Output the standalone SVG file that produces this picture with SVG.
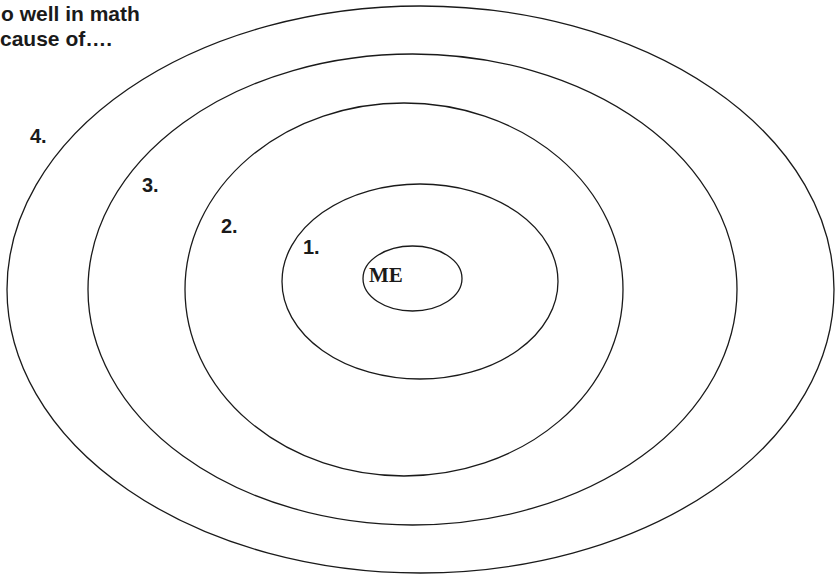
<svg xmlns="http://www.w3.org/2000/svg" width="839" height="574" viewBox="0 0 839 574">
<style>
.ring{fill:none;stroke:#1a1a1a;stroke-width:1.3}
.lbl{font-family:"Liberation Sans",Arial,sans-serif;font-weight:bold;font-size:20px;fill:#1a1a1a}
.ttl{font-family:"Liberation Sans",Arial,sans-serif;font-weight:bold;font-size:21px;fill:#1a1a1a}
.me{font-family:"Liberation Serif","Times New Roman",serif;font-weight:bold;font-size:21px;fill:#1a1a1a}
</style>
<rect width="839" height="574" fill="#ffffff"/>
<g id="title">
<text class="ttl" x="1" y="21">o well in math</text>
<text class="ttl" x="0" y="46">cause of….</text>
</g>
<g id="ring4">
<ellipse class="ring" cx="420.5" cy="289.5" rx="413.5" ry="283.5"/>
<text class="lbl" x="30" y="143">4.</text>
</g>
<g id="ring3">
<ellipse class="ring" cx="412.5" cy="289.5" rx="324.5" ry="235.5"/>
<text class="lbl" x="142" y="192">3.</text>
</g>
<g id="ring2">
<ellipse class="ring" cx="404" cy="289.5" rx="219" ry="186.5"/>
<text class="lbl" x="221" y="233">2.</text>
</g>
<g id="ring1">
<ellipse class="ring" cx="420" cy="281.5" rx="138" ry="97.5"/>
<text class="lbl" x="303" y="254">1.</text>
</g>
<g id="me">
<ellipse class="ring" cx="412.5" cy="278.5" rx="49.5" ry="32.5"/>
<text class="me" x="369" y="282">ME</text>
</g>
<g id="connectors"/>
</svg>
